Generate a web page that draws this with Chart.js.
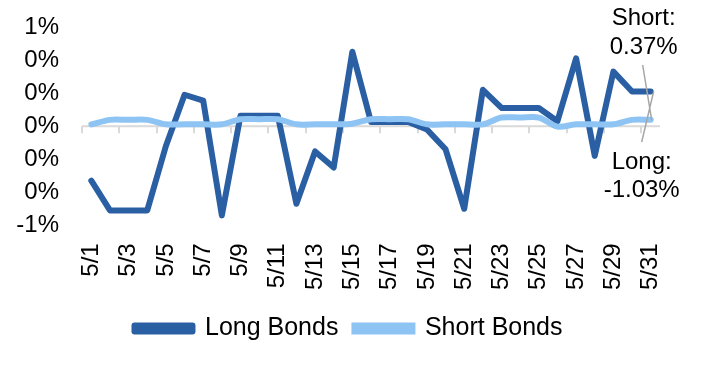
<!DOCTYPE html>
<html>
<head>
<meta charset="utf-8">
<script src="https://cdn.jsdelivr.net/npm/chart.js@4.4.1/dist/chart.umd.min.js"></script>
<style>
  html, body { margin: 0; padding: 0; background: #fff; }
  #wrap { width: 716px; height: 384px; }
</style>
</head>
<body>
<div id="wrap"><canvas id="bondChart" width="716" height="384"></canvas></div>
<script>
// daily returns in %
const days = [];
for (let d = 1; d <= 31; d++) days.push('5/' + d);

const longBonds = [
  -0.33, -0.51, -0.51, -0.51, -0.12, 0.19, 0.155, -0.54, 0.063, 0.063,
  0.063, -0.47, -0.153, -0.25, 0.45, 0.025, 0.025, 0.025, -0.02, -0.14,
  -0.50, 0.22, 0.11, 0.11, 0.11, 0.03, 0.41, -0.18, 0.33, 0.21, 0.21
];
const shortBonds = [
  0.011, 0.038, 0.038, 0.038, 0.011, 0.011, 0.011, 0.011, 0.042, 0.042,
  0.042, 0.011, 0.011, 0.011, 0.015, 0.042, 0.042, 0.042, 0.011, 0.011,
  0.011, 0.011, 0.052, 0.052, 0.052, -0.003, 0.011, 0.011, 0.011, 0.038, 0.038
];
const yTicks = [-0.6, -0.4, -0.2, 0, 0.2, 0.4, 0.6];
const shortNote = ['Short:', '0.37%'];
const longNote = ['Long:', '-1.03%'];

const font = 'Liberation Sans, Arial, sans-serif';

// zero line with tick marks between every second category
const zeroLine = {
  id: 'zeroLine',
  beforeDatasetsDraw(chart) {
    const ctx = chart.ctx, x = chart.scales.x, y = chart.scales.y;
    const y0 = y.getPixelForValue(0);
    const half = (x.getPixelForValue(1) - x.getPixelForValue(0)) / 2;
    ctx.save();
    ctx.strokeStyle = '#d9d9d9';
    ctx.lineWidth = 2;
    ctx.beginPath();
    ctx.moveTo(chart.chartArea.left, y0);
    ctx.lineTo(chart.chartArea.right, y0);
    for (let i = 0; i <= days.length; i += 2) {
      const px = Math.round(x.getPixelForValue(i) - half);
      ctx.moveTo(px, y0);
      ctx.lineTo(px, y0 + 7);
    }
    ctx.stroke();
    ctx.restore();
  }
};

// end-of-month labels with leader lines
const endNotes = {
  id: 'endNotes',
  afterDatasetsDraw(chart) {
    const ctx = chart.ctx, x = chart.scales.x, y = chart.scales.y;
    const last = days.length - 1;
    const px = x.getPixelForValue(last);
    const pyShort = y.getPixelForValue(shortBonds[last]);
    const pyLong = y.getPixelForValue(longBonds[last]);
    ctx.save();
    ctx.strokeStyle = '#a6a6a6';
    ctx.lineWidth = 1.5;
    ctx.beginPath();
    ctx.moveTo(px - 8, 65);
    ctx.lineTo(px + 1, pyShort);
    ctx.moveTo(px - 9, 142);
    ctx.lineTo(px + 3, pyLong);
    ctx.stroke();
    ctx.fillStyle = '#000';
    ctx.font = '24px ' + font;
    ctx.textAlign = 'center';
    ctx.textBaseline = 'middle';
    ctx.fillText(shortNote[0], px - 7, 18);
    ctx.fillText(shortNote[1], px - 7, 47);
    ctx.fillText(longNote[0], px - 9, 162);
    ctx.fillText(longNote[1], px - 9, 190);
    ctx.restore();
  }
};

new Chart(document.getElementById('bondChart'), {
  type: 'line',
  data: {
    labels: days,
    datasets: [{
      label: 'Long Bonds',
      data: longBonds,
      borderColor: '#2a60a3',
      backgroundColor: '#2a60a3',
      borderWidth: 6,
      pointRadius: 0,
      tension: 0,
      borderJoinStyle: 'round',
      borderCapStyle: 'round',
      order: 2
    }, {
      label: 'Short Bonds',
      data: shortBonds,
      borderColor: '#8ec4f3',
      backgroundColor: '#8ec4f3',
      borderWidth: 6,
      pointRadius: 0,
      tension: 0.3,
      borderCapStyle: 'round',
      order: 1
    }]
  },
  options: {
    responsive: false,
    animation: false,
    layout: { padding: { left: 15, right: 34, top: 27, bottom: 33 } },
    scales: {
      x: {
        offset: true,
        grid: { display: false },
        border: { display: false },
        afterFit: axis => { axis.paddingLeft = 0; axis.paddingRight = 56; },
        ticks: {
          autoSkip: false,
          minRotation: 90,
          maxRotation: 90,
          padding: 10,
          color: '#000',
          font: { family: font, size: 24 },
          callback: (v, i) => (i % 2 === 0 ? days[i] : '')
        }
      },
      y: {
        min: -0.6,
        max: 0.6,
        afterBuildTicks: axis => { axis.ticks = yTicks.map(v => ({ value: v })); },
        afterFit: axis => { axis.width = 67; axis.paddingTop = 0; axis.paddingBottom = 0; },
        grid: { display: false, drawTicks: false },
        border: { display: false },
        ticks: {
          autoSkip: false,
          padding: 23,
          color: '#000',
          font: { family: font, size: 24 },
          callback: v => (Math.round(v) + 0) + '%'
        }
      }
    },
    plugins: {
      tooltip: { enabled: false },
      legend: {
        position: 'bottom',
        labels: {
          boxWidth: 58,
          boxHeight: 6,
          padding: 16,
          color: '#000',
          font: { family: font, size: 25 },
          sort: (a, b) => a.datasetIndex - b.datasetIndex
        }
      }
    }
  },
  plugins: [zeroLine, endNotes]
});
</script>
</body>
</html>
